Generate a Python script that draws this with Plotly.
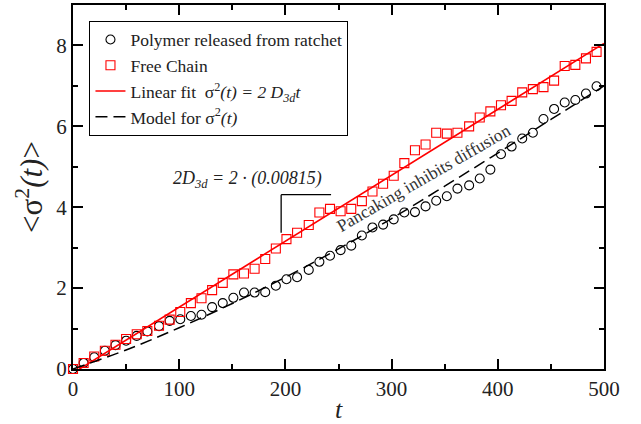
import plotly.graph_objects as go

# ---- data ----
t_vals = [0, 10, 20, 30, 40, 50, 60, 70, 81, 91, 101, 111, 121, 131, 141, 151, 161,
          171, 181, 191, 201, 211, 222, 232, 242, 252, 262, 272, 282, 292, 302, 312,
          322, 332, 342, 352, 362, 373, 383, 393, 403, 413, 423, 433, 443, 453, 463,
          473, 483, 493]

released = [0, 0.15, 0.29, 0.45, 0.59, 0.70, 0.82, 0.93, 1.06, 1.19,
            1.23, 1.31, 1.34, 1.53, 1.63, 1.76, 1.89, 1.89, 1.90, 2.06,
            2.22, 2.27, 2.45, 2.65, 2.80, 2.94, 3.05, 3.30, 3.50, 3.57,
            3.70, 3.87, 3.88, 4.02, 4.16, 4.27, 4.46, 4.54, 4.71, 4.93,
            5.31, 5.50, 5.70, 5.84, 6.18, 6.43, 6.59, 6.65, 6.81, 6.99]

free_chain = [0, 0.15, 0.31, 0.45, 0.60, 0.74, 0.86, 0.94, 1.07, 1.22,
              1.41, 1.63, 1.75, 1.95, 2.13, 2.34, 2.36, 2.48, 2.72, 2.98,
              3.21, 3.37, 3.56, 3.87, 3.96, 3.90, 3.96, 4.15, 4.39, 4.58,
              4.78, 5.09, 5.41, 5.55, 5.84, 5.82, 5.84, 6.00, 6.22, 6.37,
              6.52, 6.63, 6.84, 6.92, 6.97, 7.13, 7.49, 7.52, 7.68, 7.84]

D3d = 0.00815
fit_intercept = -0.10
fit_t = [0, 500]
fit_y = [2 * D3d * t + fit_intercept for t in fit_t]

model_t = [0, 50, 100, 150, 200, 250, 300, 350, 400, 450, 500]
model_y = [0, 0.47, 1.02, 1.62, 2.27, 2.97, 3.72, 4.52, 5.34, 6.17, 7.0]

x_ticks = [0, 100, 200, 300, 400, 500]
y_ticks = [0, 2, 4, 6, 8]

# slope bracket (data coords)
bracket_x = [196, 243]
bracket_y = [4.31, 3.37]

FONT = "Liberation Serif, Times New Roman, DejaVu Serif, serif"

fig = go.Figure()
fig.add_trace(go.Scatter(
    x=t_vals, y=released, mode="markers", name="Polymer released from ratchet",
    marker=dict(symbol="circle-open", size=9, color="black", line=dict(width=1.1)),
    cliponaxis=False))
fig.add_trace(go.Scatter(
    x=t_vals, y=free_chain, mode="markers", name="Free Chain",
    marker=dict(symbol="square-open", size=9, color="red", line=dict(width=1.1)),
    cliponaxis=False))
fig.add_trace(go.Scatter(
    x=fit_t, y=fit_y, mode="lines",
    name="Linear fit  σ<sup>2</sup><i>(t) = 2 D<sub>3d</sub>t</i>",
    line=dict(color="red", width=1.6)))
fig.add_trace(go.Scatter(
    x=model_t, y=model_y, mode="lines", line_shape="spline",
    name="Model for σ<sup>2</sup><i>(t)</i>",
    line=dict(color="black", width=1.5, dash="12px,6px")))

# slope bracket
fig.add_shape(type="line", x0=bracket_x[0], x1=bracket_x[1], y0=bracket_y[0], y1=bracket_y[0],
              line=dict(color="black", width=1.3))
fig.add_shape(type="line", x0=bracket_x[0], x1=bracket_x[0], y0=bracket_y[0], y1=bracket_y[1],
              line=dict(color="black", width=1.3))

fig.add_annotation(x=164, y=4.68, text="<i>2D<sub>3d</sub> = 2 · (0.00815)</i>",
                   showarrow=False, font=dict(family=FONT, size=18, color="#222"))
fig.add_annotation(x=330, y=4.72, text="Pancaking inhibits diffusion", textangle=-30,
                   showarrow=False, font=dict(family=FONT, size=17.5, color="#333"))

axis_common = dict(
    showgrid=False, zeroline=False, showline=True, linecolor="black", linewidth=2,
    mirror="ticks", ticks="inside", ticklen=10, tickwidth=1.5, tickcolor="black",
    tickfont=dict(family=FONT, size=21, color="#222"),
)

fig.update_xaxes(range=[0, 500], tickvals=x_ticks,
                 minor=dict(dtick=50, ticks="inside", ticklen=5, tickwidth=1.5, tickcolor="black"),
                 title=dict(text="<i>t</i>", font=dict(family=FONT, size=26, color="#222"), standoff=2),
                 **axis_common)
fig.update_yaxes(range=[0, 9], tickvals=y_ticks,
                 minor=dict(dtick=1, ticks="inside", ticklen=5, tickwidth=1.5, tickcolor="black"),
                 title=dict(text="&lt;σ<sup>2</sup><i>(t)</i>&gt;", font=dict(family=FONT, size=31, color="#222"), standoff=4),
                 **axis_common)

fig.update_layout(
    width=641, height=424,
    margin=dict(l=73, r=37, t=3, b=49),
    plot_bgcolor="white", paper_bgcolor="white",
    font=dict(family=FONT, color="#222"),
    showlegend=True,
    legend=dict(x=0.031, y=0.957, xanchor="left", yanchor="top",
                bgcolor="white", bordercolor="black", borderwidth=1,
                font=dict(family=FONT, size=17.5, color="#222"),
                tracegroupgap=0, itemwidth=30),
)

fig.write_html("out.html")
